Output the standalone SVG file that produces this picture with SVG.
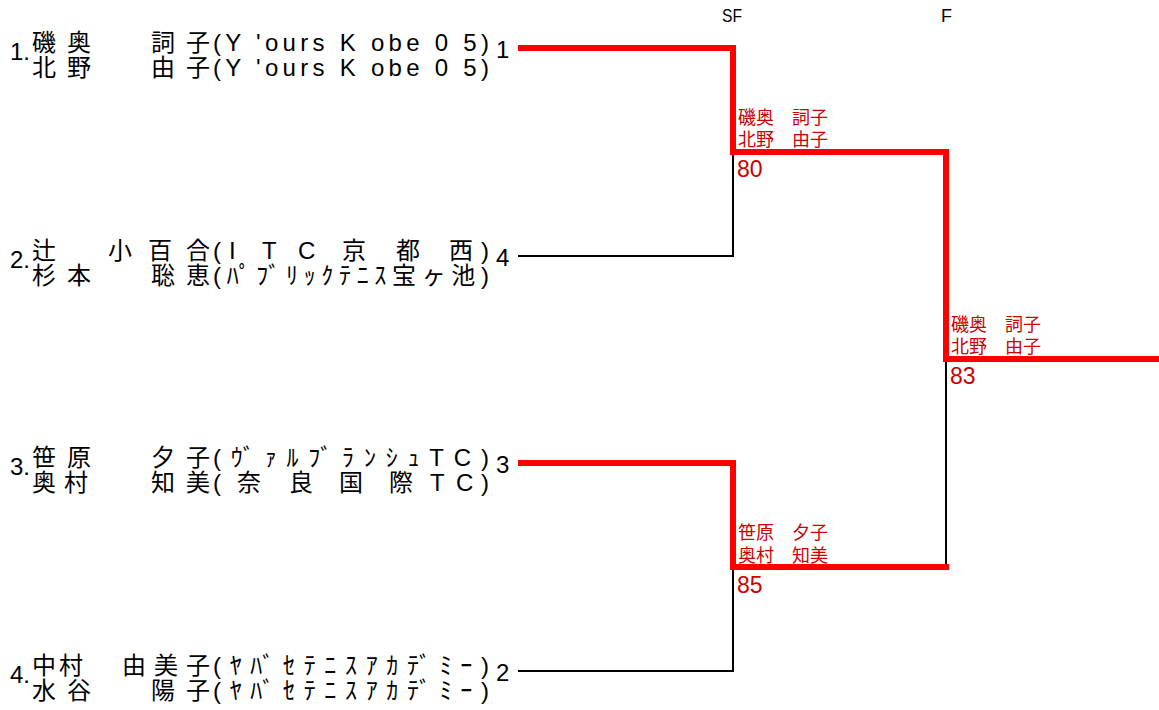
<svg xmlns="http://www.w3.org/2000/svg" width="1159" height="710" viewBox="0 0 1159 710">
<style>
text{font-family:"Liberation Sans","Noto Sans CJK JP",sans-serif;fill:#000}
.nm{font-size:24px}
.num{font-size:24px}
.hd{font-size:18px}
.wl{font-size:18px;fill:#cc0000}
.sc{font-size:23px;fill:#cc0000}
.red{fill:none;stroke:#ff0000;stroke-width:6;stroke-linejoin:miter}
.blk{fill:none;stroke:#000;stroke-width:2}
</style>
<rect width="1159" height="710" fill="#fff"/>
<g id="headers">
<text class="hd" x="722" y="22" textLength="20" lengthAdjust="spacingAndGlyphs">SF</text>
<text class="hd" x="941" y="22">F</text>
</g>
<g id="connectors">
<path class="blk" d="M518,256 H733 V152"/>
<path class="blk" d="M518,671 H733 V567"/>
<path class="blk" d="M946,359 V567"/>
<path class="red" d="M518,48 H733 V152 H946 V359 H1159"/>
<path class="red" d="M518,463 H733 V567 H949"/>
</g>
<g id="player1">
<text class="num" x="10" y="60">1.</text>
<text class="nm" x="32 67 151 186" y="51">磯奥詞子</text>
<text class="nm" x="32 67 151 186" y="76">北野由子</text>
<text class="nm" x="213" y="51" textLength="276" lengthAdjust="spacing">(Y 'ours K obe 0 5)</text>
<text class="nm" x="213" y="76" textLength="276" lengthAdjust="spacing">(Y 'ours K obe 0 5)</text>
<text class="num" x="496" y="58">1</text>
</g>
<g id="player2">
<text class="num" x="10" y="268">2.</text>
<text class="nm" x="32 108 148 186" y="259">辻小百合</text>
<text class="nm" x="32 67 151 186" y="284">杉本聡恵</text>
<text class="nm" x="213 229 262 298 342 396 449 481" y="259">(ITC京都西)</text>
<text class="nm" x="213" y="284" textLength="276" lengthAdjust="spacing">(ﾊﾟﾌﾞﾘｯｸﾃﾆｽ宝ヶ池)</text>
<text class="nm" x="496" y="266">4</text>
</g>
<g id="player3">
<text class="num" x="10" y="475">3.</text>
<text class="nm" x="32 67 151 186" y="466">笹原夕子</text>
<text class="nm" x="32 64 151 186" y="491">奥村知美</text>
<text class="nm" x="213" y="466" textLength="276" lengthAdjust="spacing">(ｳﾞｧﾙﾌﾞﾗﾝｼｭTC)</text>
<text class="nm" x="213 237 289 339 389 430 456 481" y="491">(奈良国際TC)</text>
<text class="num" x="496" y="473">3</text>
</g>
<g id="player4">
<text class="num" x="10" y="683">4.</text>
<text class="nm" x="32 59 122 154 186" y="674">中村由美子</text>
<text class="nm" x="32 67 151 186" y="699">水谷陽子</text>
<text class="nm" x="213" y="674" textLength="276" lengthAdjust="spacing">(ﾔﾊﾞｾﾃﾆｽｱｶﾃﾞﾐｰ)</text>
<text class="nm" x="213" y="699" textLength="276" lengthAdjust="spacing">(ﾔﾊﾞｾﾃﾆｽｱｶﾃﾞﾐｰ)</text>
<text class="num" x="496" y="681">2</text>
</g>
<g id="sf1-winner">
<text class="wl" x="738" y="124">磯奥　詞子</text>
<text class="wl" x="738" y="146">北野　由子</text>
<text class="sc" x="737" y="177">80</text>
</g>
<g id="sf2-winner">
<text class="wl" x="738" y="539">笹原　夕子</text>
<text class="wl" x="738" y="562">奥村　知美</text>
<text class="sc" x="737" y="593">85</text>
</g>
<g id="final-winner">
<text class="wl" x="951" y="331">磯奥　詞子</text>
<text class="wl" x="951" y="353">北野　由子</text>
<text class="sc" x="950" y="384">83</text>
</g>
</svg>
